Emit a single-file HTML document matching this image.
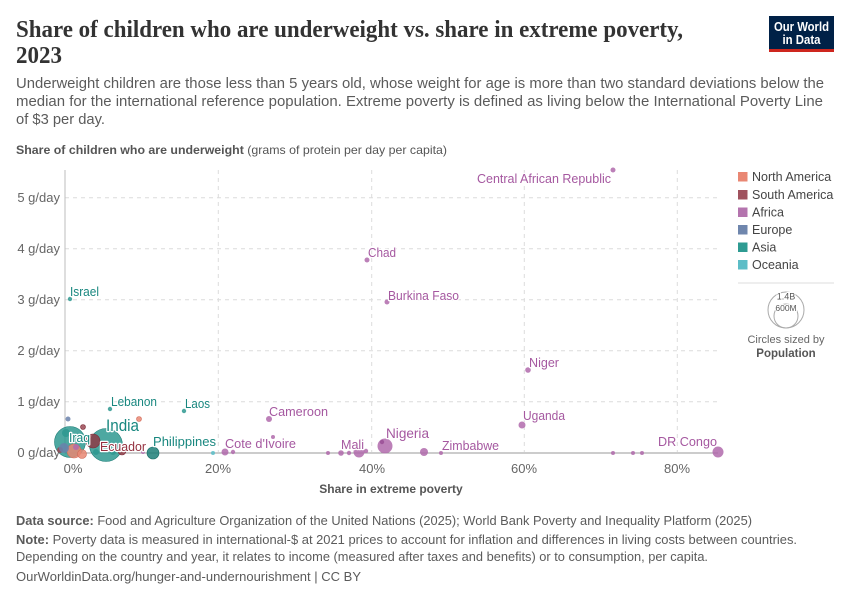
<!DOCTYPE html>
<html><head><meta charset="utf-8">
<style>
html,body{margin:0;padding:0;background:#fff;}
svg{display:block;font-family:"Liberation Sans",sans-serif;}
.lab{font-size:13px;paint-order:stroke;stroke:#fff;stroke-width:2.5px;stroke-linejoin:round;}
.af{fill:#a558a0;}
.as{fill:#18877f;}
.sa{fill:#94303f;}
</style></head>
<body>
<svg width="850" height="600" viewBox="0 0 850 600" xmlns="http://www.w3.org/2000/svg">
<rect width="850" height="600" fill="#fff"/>
<!-- Title -->
<text x="16" y="37" font-family="Liberation Serif, serif" font-size="24" font-weight="bold" fill="#333" textLength="667" lengthAdjust="spacingAndGlyphs">Share of children who are underweight vs. share in extreme poverty,</text>
<text x="16" y="63" font-family="Liberation Serif, serif" font-size="24" font-weight="bold" fill="#333" textLength="46" lengthAdjust="spacingAndGlyphs">2023</text>
<!-- Logo -->
<rect x="769" y="16" width="65" height="34" fill="#002147"/>
<rect x="769" y="49" width="65" height="3" fill="#ce261e"/>
<text x="801.5" y="31" font-size="12.5" font-weight="bold" fill="#fff" text-anchor="middle" textLength="55" lengthAdjust="spacingAndGlyphs">Our World</text>
<text x="801.5" y="44" font-size="12.5" font-weight="bold" fill="#fff" text-anchor="middle" textLength="38" lengthAdjust="spacingAndGlyphs">in Data</text>
<!-- Subtitle -->
<g font-size="15" fill="#5b5b5b">
<text x="16" y="88" textLength="808" lengthAdjust="spacingAndGlyphs">Underweight children are those less than 5 years old, whose weight for age is more than two standard deviations below the</text>
<text x="16" y="106" textLength="807" lengthAdjust="spacingAndGlyphs">median for the international reference population. Extreme poverty is defined as living below the International Poverty Line</text>
<text x="16" y="124" textLength="89" lengthAdjust="spacingAndGlyphs">of $3 per day.</text>
</g>
<!-- Y axis title -->
<text x="16" y="154" font-size="12" fill="#555" textLength="431" lengthAdjust="spacingAndGlyphs"><tspan font-weight="bold">Share of children who are underweight</tspan> (grams of protein per day per capita)</text>

<!-- Grid -->
<g stroke="#dcdcdc" stroke-width="1" stroke-dasharray="4,4" fill="none">
<line x1="65" y1="197.7" x2="718" y2="197.7"/>
<line x1="65" y1="248.7" x2="718" y2="248.7"/>
<line x1="65" y1="299.7" x2="718" y2="299.7"/>
<line x1="65" y1="350.7" x2="718" y2="350.7"/>
<line x1="65" y1="401.7" x2="718" y2="401.7"/>
<line x1="218.3" y1="170" x2="218.3" y2="452"/>
<line x1="371.7" y1="170" x2="371.7" y2="452"/>
<line x1="524.3" y1="170" x2="524.3" y2="452"/>
<line x1="677.3" y1="170" x2="677.3" y2="452"/>
</g>
<line x1="65" y1="170" x2="65" y2="453" stroke="#bdbdbd" stroke-width="1"/>
<line x1="65" y1="453" x2="718" y2="453" stroke="#999" stroke-width="1"/>

<!-- Y tick labels -->
<g font-size="13" fill="#666" text-anchor="end">
<text x="60" y="202">5 g/day</text>
<text x="60" y="253">4 g/day</text>
<text x="60" y="304">3 g/day</text>
<text x="60" y="355">2 g/day</text>
<text x="60" y="406">1 g/day</text>
<text x="60" y="457">0 g/day</text>
</g>
<!-- X tick labels -->
<g font-size="13" fill="#666" text-anchor="middle">
<text x="73" y="473">0%</text>
<text x="218" y="473">20%</text>
<text x="372" y="473">40%</text>
<text x="524" y="473">60%</text>
<text x="677" y="473">80%</text>
</g>
<text x="391" y="493" font-size="12" font-weight="bold" fill="#555" text-anchor="middle">Share in extreme poverty</text>

<!-- Points -->
<g fill-opacity="0.85" stroke-width="0.6">
<circle cx="70" cy="442" r="15.5" fill="#2e9990" stroke="#1d7d76"/>
<circle cx="106" cy="445" r="16.5" fill="#2e9990" stroke="#1d7d76"/>
<circle cx="93" cy="441" r="7" fill="#8e3a45" stroke="#7a2a36"/>
<circle cx="122" cy="451" r="4" fill="#8e3a45" stroke="#7a2a36"/>
<circle cx="83" cy="427" r="2.5" fill="#9a4752" stroke="#7a2a36"/>
<circle cx="60" cy="450" r="3" fill="#9a4752"/>
<circle cx="74" cy="451" r="7" fill="#e98773" stroke="#d06a58"/>
<circle cx="82" cy="454" r="4.5" fill="#e98773" stroke="#d06a58"/>
<circle cx="139" cy="419" r="2.5" fill="#e98773" stroke="#d06a58"/>
<circle cx="68" cy="419" r="2.5" fill="#6a81ab"/>
<circle cx="64" cy="448" r="5" fill="#6a81ab"/>
<circle cx="66" cy="433" r="4" fill="#2e9990"/>
<circle cx="70" cy="299" r="2.2" fill="#2e9990"/>
<circle cx="110" cy="409" r="2.2" fill="#2e9990"/>
<circle cx="184" cy="411" r="2.2" fill="#2e9990"/>
<circle cx="153" cy="453" r="6" fill="#1f7f78" stroke="#176c66"/>
<circle cx="96" cy="452" r="3" fill="#2e9990"/>
<circle cx="113" cy="452" r="3" fill="#2e9990"/>
<circle cx="213" cy="453" r="2" fill="#5bbdc7"/>
<circle cx="76" cy="447" r="3" fill="#b26aad"/>
<circle cx="143" cy="452" r="2" fill="#b26aad"/>
<circle cx="613" cy="170" r="2.5" fill="#b06aab"/>
<circle cx="367" cy="260" r="2.5" fill="#b06aab"/>
<circle cx="387" cy="302" r="2.5" fill="#b06aab"/>
<circle cx="528" cy="370" r="2.8" fill="#b06aab"/>
<circle cx="522" cy="425" r="3.5" fill="#b06aab"/>
<circle cx="269" cy="419" r="3" fill="#b06aab"/>
<circle cx="273" cy="437" r="2" fill="#b06aab"/>
<circle cx="225" cy="452" r="3.5" fill="#b06aab"/>
<circle cx="233" cy="452" r="2.2" fill="#b06aab"/>
<circle cx="328" cy="453" r="2" fill="#b06aab"/>
<circle cx="341" cy="453" r="2.8" fill="#b06aab"/>
<circle cx="349" cy="453" r="2.2" fill="#b06aab"/>
<circle cx="359" cy="452" r="5.5" fill="#b06aab"/>
<circle cx="366" cy="451" r="2.2" fill="#b06aab"/>
<circle cx="385" cy="446" r="7.5" fill="#b06aab"/>
<circle cx="382" cy="442" r="2.2" fill="#9a4f95"/>
<circle cx="424" cy="452" r="4" fill="#b06aab"/>
<circle cx="441" cy="453" r="2" fill="#b06aab"/>
<circle cx="613" cy="453" r="2" fill="#b06aab"/>
<circle cx="633" cy="453" r="2" fill="#b06aab"/>
<circle cx="642" cy="453" r="2" fill="#b06aab"/>
<circle cx="718" cy="452" r="5.5" fill="#b06aab"/>
</g>

<!-- Labels -->
<text class="lab af" x="611" y="183" text-anchor="end" textLength="134" lengthAdjust="spacingAndGlyphs">Central African Republic</text>
<text class="lab af" x="368" y="257" textLength="28" lengthAdjust="spacingAndGlyphs">Chad</text>
<text class="lab af" x="388" y="300" textLength="71" lengthAdjust="spacingAndGlyphs">Burkina Faso</text>
<text class="lab af" x="529" y="367" textLength="30" lengthAdjust="spacingAndGlyphs">Niger</text>
<text class="lab af" x="523" y="420" textLength="42" lengthAdjust="spacingAndGlyphs">Uganda</text>
<text class="lab af" x="269" y="416" textLength="59" lengthAdjust="spacingAndGlyphs">Cameroon</text>
<text class="lab af" x="225" y="448" textLength="71" lengthAdjust="spacingAndGlyphs">Cote d'Ivoire</text>
<text class="lab af" x="341" y="449" textLength="23" lengthAdjust="spacingAndGlyphs">Mali</text>
<text class="lab af" x="386" y="438" style="font-size:14px" textLength="43" lengthAdjust="spacingAndGlyphs">Nigeria</text>
<text class="lab af" x="442" y="450" textLength="57" lengthAdjust="spacingAndGlyphs">Zimbabwe</text>
<text class="lab af" x="717" y="446" text-anchor="end" textLength="59" lengthAdjust="spacingAndGlyphs">DR Congo</text>
<text class="lab as" x="70" y="296" textLength="29" lengthAdjust="spacingAndGlyphs">Israel</text>
<text class="lab as" x="111" y="406" textLength="46" lengthAdjust="spacingAndGlyphs">Lebanon</text>
<text class="lab as" x="185" y="408" textLength="25" lengthAdjust="spacingAndGlyphs">Laos</text>
<text class="lab as" x="153" y="446" textLength="63" lengthAdjust="spacingAndGlyphs">Philippines</text>
<text class="lab as" x="106" y="431" style="font-size:17px" textLength="33" lengthAdjust="spacingAndGlyphs">India</text>
<text class="lab as" x="69" y="442" textLength="21" lengthAdjust="spacingAndGlyphs">Iraq</text>
<text class="lab sa" x="100" y="451" textLength="46" lengthAdjust="spacingAndGlyphs">Ecuador</text>

<!-- Legend -->
<g font-size="12.5" fill="#444">
<rect x="738" y="172" width="9.5" height="9.5" fill="#e98773"/>
<text x="752" y="181">North America</text>
<rect x="738" y="190" width="9.5" height="9.5" fill="#a0525e"/>
<text x="752" y="199">South America</text>
<rect x="738" y="207.5" width="9.5" height="9.5" fill="#b474ae"/>
<text x="752" y="216.5">Africa</text>
<rect x="738" y="225" width="9.5" height="9.5" fill="#6f86ad"/>
<text x="752" y="234">Europe</text>
<rect x="738" y="242.5" width="9.5" height="9.5" fill="#2e9b92"/>
<text x="752" y="251.5">Asia</text>
<rect x="738" y="260" width="9.5" height="9.5" fill="#5cbdc7"/>
<text x="752" y="269">Oceania</text>
</g>
<line x1="738" y1="283" x2="834" y2="283" stroke="#ddd" stroke-width="1"/>
<circle cx="786" cy="310" r="18" fill="none" stroke="#aaa" stroke-width="1"/>
<circle cx="786" cy="316" r="12" fill="none" stroke="#aaa" stroke-width="1"/>
<text x="786" y="299.5" font-size="9" fill="#555" text-anchor="middle" style="paint-order:stroke;stroke:#fff;stroke-width:2px">1.4B</text>
<text x="786" y="311" font-size="8.5" fill="#555" text-anchor="middle" style="paint-order:stroke;stroke:#fff;stroke-width:2px">600M</text>
<text x="786" y="343" font-size="11" fill="#666" text-anchor="middle">Circles sized by</text>
<text x="786" y="357" font-size="11.5" font-weight="bold" fill="#555" text-anchor="middle">Population</text>

<!-- Footer -->
<g font-size="12.5" fill="#5b5b5b">
<text x="16" y="525" textLength="736" lengthAdjust="spacingAndGlyphs"><tspan font-weight="bold">Data source:</tspan> Food and Agriculture Organization of the United Nations (2025); World Bank Poverty and Inequality Platform (2025)</text>
<text x="16" y="544" textLength="781" lengthAdjust="spacingAndGlyphs"><tspan font-weight="bold">Note:</tspan> Poverty data is measured in international-$ at 2021 prices to account for inflation and differences in living costs between countries.</text>
<text x="16" y="561" textLength="692" lengthAdjust="spacingAndGlyphs">Depending on the country and year, it relates to income (measured after taxes and benefits) or to consumption, per capita.</text>
<text x="16" y="581" textLength="345" lengthAdjust="spacingAndGlyphs">OurWorldinData.org/hunger-and-undernourishment | CC BY</text>
</g>
</svg>
</body></html>
